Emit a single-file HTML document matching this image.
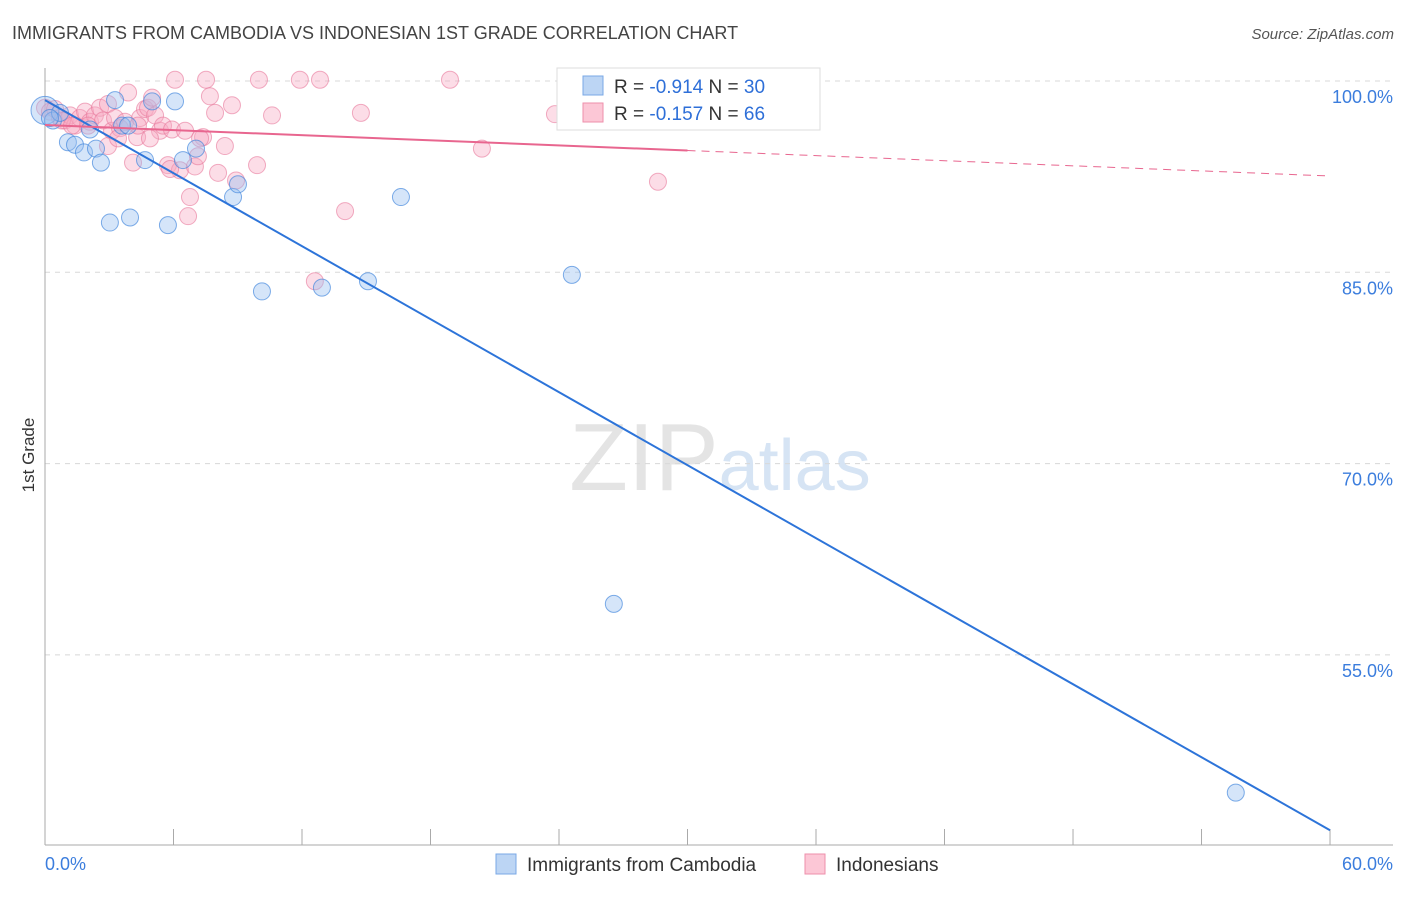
<!DOCTYPE html>
<html><head><meta charset="utf-8"><style>
body{margin:0;background:#fff;font-family:"Liberation Sans",sans-serif;}
svg text{font-family:"Liberation Sans",sans-serif;}
</style></head><body>
<svg id="chart" width="1406" height="892" xmlns="http://www.w3.org/2000/svg">
<text x="12" y="39" font-size="18" fill="#444">IMMIGRANTS FROM CAMBODIA VS INDONESIAN 1ST GRADE CORRELATION CHART</text>
<text x="1394" y="39" font-size="15" fill="#555" text-anchor="end" font-style="italic">Source: ZipAtlas.com</text>
<text x="720" y="490" font-size="96" fill="#e4e4e4" text-anchor="middle" font-family="Liberation Serif"><tspan>ZIP</tspan><tspan fill="#d6e4f4" font-family="Liberation Sans" font-size="72">atlas</tspan></text>
<text transform="translate(34,455) rotate(-90)" font-size="17" fill="#333" text-anchor="middle">1st Grade</text>
<g id="grid"></g><g id="axes"></g><g id="pink"></g><g id="blue"></g><g id="lines"></g>
<g>
<rect x="557" y="68" width="263" height="62" fill="#fff" stroke="#ddd"/>
<rect x="583" y="76" width="20" height="19" fill="#bcd5f4" stroke="#7aa8e6"/>
<rect x="583" y="103" width="20" height="19" fill="#fcc7d6" stroke="#ee8fab"/>
<text x="614" y="93" font-size="19" fill="#333">R = <tspan fill="#2e6fd8">-0.914</tspan>   N = <tspan fill="#2e6fd8">30</tspan></text>
<text x="614" y="120" font-size="19" fill="#333">R = <tspan fill="#2e6fd8">-0.157</tspan>   N = <tspan fill="#2e6fd8">66</tspan></text>
</g>
<g>
<rect x="496" y="854" width="20" height="20" fill="#bcd5f4" stroke="#7aa8e6"/>
<text x="527" y="871" font-size="19" fill="#333">Immigrants from Cambodia</text>
<rect x="805" y="854" width="20" height="20" fill="#fcc7d6" stroke="#ee8fab"/>
<text x="836" y="871" font-size="19" fill="#333">Indonesians</text>
</g>
</svg>
<script>
const yTicks=[100,85,70,55];
const xTickLabels=["0.0%","60.0%"];
const blueX=[0,0.37,1.07,1.4,1.82,2.1,2.38,2.61,3.03,3.27,3.6,3.97,4.67,5,5.74,6.07,6.44,7.05,8.78,9.01,10.13,12.93,15.08,16.62,24.6,26.56,55.6,0.7,3.88,0.23];
const blueY=[97.7,96.9,95.2,95,94.4,96.2,94.7,93.6,88.9,98.5,96.5,89.3,93.8,98.4,88.7,98.4,93.8,94.7,90.9,91.9,83.5,83.8,84.3,90.9,84.8,59,44.2,97.5,96.5,97.1];
const pinkX=[0,0.23,0.47,0.7,0.93,1.17,1.4,1.63,1.87,2.1,2.33,2.57,2.71,2.94,3.13,3.27,3.5,3.74,3.88,4.11,4.3,4.44,4.67,4.81,5,5.14,5.37,5.51,5.74,5.93,6.07,6.3,6.54,6.68,6.77,7.0,7.14,7.38,7.52,7.94,8.08,8.4,8.73,8.92,9.9,9.99,10.6,11.9,12.6,12.84,14.01,14.75,18.91,20.4,23.81,28.62,0.79,1.26,2.01,2.94,3.41,4.34,4.9,5.84,7.24,7.7];
const pinkY=[97.9,97.6,97.8,97.1,96.9,97.3,96.5,97.1,97.6,96.8,97.3,97.9,96.9,98.2,96.1,97.1,96.3,96.8,99.1,93.6,95.6,97.1,97.8,97.9,98.7,97.3,96.1,96.5,93.4,96.2,100.1,93,96.1,89.4,90.9,93.3,94.1,95.6,100.1,97.5,92.8,94.9,98.1,92.2,93.4,100.1,97.3,100.1,84.3,100.1,89.8,97.5,100.1,94.7,97.4,92.1,96.9,96.5,96.5,94.9,95.5,96.5,95.5,93.1,95.5,98.8];
const blueFit=[98.5,41.25];
const pinkFit=[96.55,92.55];
const NS="http://www.w3.org/2000/svg";
const X=p=>45+p*21.417, Y=v=>81+(100-v)*12.753;
function mk(tag,attrs,parent){const e=document.createElementNS(NS,tag);for(const k in attrs)e.setAttribute(k,attrs[k]);document.getElementById(parent).appendChild(e);return e;}
yTicks.forEach(t=>{
 const l=mk('line',{x1:45,x2:1393,y1:Y(t),y2:Y(t),stroke:'#d8d8d8','stroke-dasharray':'5,5'},'grid');
 
 
 const tx=mk('text',{x:1393,y:Y(t)+22,'font-size':18,fill:'#3b7ddd','text-anchor':'end'},'grid');
 tx.textContent=t.toFixed(1)+'%';
 
 
});
const ax=mk('line',{x1:45,x2:45,y1:68,y2:845,stroke:'#aaa'},'axes');


const bx=mk('line',{x1:45,x2:1393,y1:845,y2:845,stroke:'#aaa'},'axes');


for(let i=0;i<=10;i++){const t=mk('line',{x1:X(i*6),x2:X(i*6),y1:829,y2:845,stroke:'#aaa'},'axes');
 
 }
[[0,'start',45],[60,'end',1393]].forEach((d,i)=>{const t=mk('text',{x:d[2],y:870,'font-size':18,fill:'#3b7ddd','text-anchor':d[1]},'axes');t.textContent=xTickLabels[i];
 
 });
pinkX.forEach((p,i)=>{const c=mk('circle',{cx:X(p),cy:Y(pinkY[i]),r:8.5,fill:'rgba(248,170,195,0.4)',stroke:'rgba(232,120,155,0.6)'},'pink');
 
 });
blueX.forEach((p,i)=>{const c=mk('circle',{cx:X(p),cy:Y(blueY[i]),r:i==0?14:8.5,fill:'rgba(150,190,240,0.4)',stroke:'rgba(60,130,220,0.65)'},'blue');
 
 });
const bl=mk('line',{x1:X(0),y1:Y(blueFit[0]),x2:X(60),y2:Y(blueFit[1]),stroke:'#2d74d9','stroke-width':2},'lines');


const pm=pinkFit[0]+(pinkFit[1]-pinkFit[0])*0.5;
const pl=mk('line',{x1:X(0),y1:Y(pinkFit[0]),x2:X(30),y2:Y(pm),stroke:'#e8668f','stroke-width':2},'lines');


const pd=mk('line',{x1:X(30),y1:Y(pm),x2:X(60),y2:Y(pinkFit[1]),stroke:'#e8668f','stroke-width':1,'stroke-dasharray':'8,6'},'lines');


</script>
</body></html>
